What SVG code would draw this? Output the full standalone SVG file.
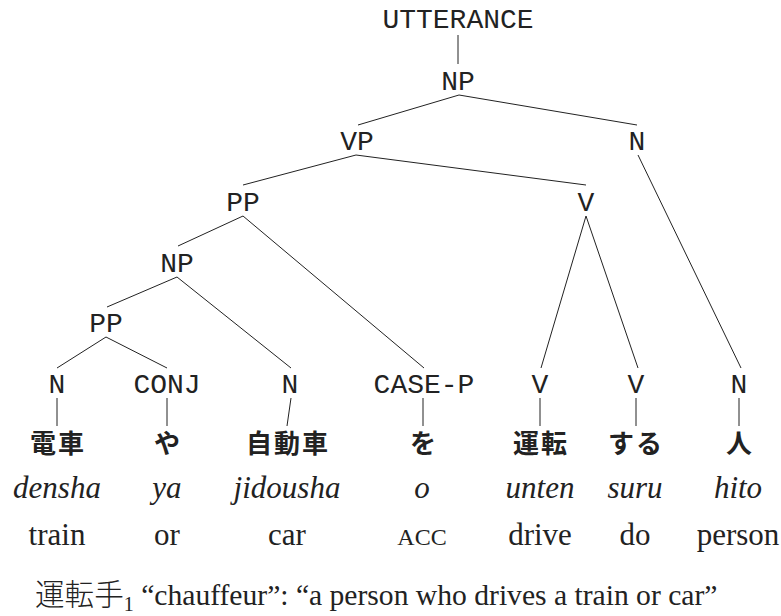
<svg xmlns="http://www.w3.org/2000/svg" width="781" height="616" viewBox="0 0 781 616">
  <style>
    .cat { font-family: "Liberation Mono", "DejaVu Sans Mono", monospace; font-size: 28px; fill: #222; text-anchor: middle; }
    .jp { font-family: "Noto Sans CJK JP", sans-serif; font-weight: 700; font-size: 26px; fill: #222; text-anchor: middle; letter-spacing: 2px; }
    .rom { font-family: "Liberation Serif", serif; font-style: italic; font-size: 31px; fill: #222; text-anchor: middle; }
    .gloss { font-family: "Liberation Serif", serif; font-size: 31px; fill: #222; text-anchor: middle; }
    .sc { font-family: "Liberation Serif", serif; font-size: 24px; fill: #222; text-anchor: middle; }
    .cap { font-family: "Liberation Serif", "Noto Sans CJK JP", serif; font-size: 29.6px; fill: #222; }
    .edge { stroke: #222; stroke-width: 1; fill: none; }
  </style>

  <!-- tree branches -->
  <g id="connectors" class="edge">
    <line x1="458" y1="35" x2="458" y2="64"/>
    <line x1="459" y1="95" x2="358" y2="125"/>
    <line x1="459" y1="95" x2="637" y2="125"/>
    <line x1="356" y1="155" x2="243" y2="185"/>
    <line x1="356" y1="155" x2="586" y2="185"/>
    <line x1="638" y1="155" x2="741" y2="368"/>
    <line x1="243" y1="216" x2="178" y2="246"/>
    <line x1="243" y1="216" x2="424" y2="368"/>
    <line x1="586" y1="216" x2="541" y2="368"/>
    <line x1="586" y1="216" x2="638" y2="368"/>
    <line x1="177" y1="277" x2="107" y2="307"/>
    <line x1="177" y1="277" x2="291" y2="368"/>
    <line x1="106" y1="337" x2="57" y2="368"/>
    <line x1="106" y1="337" x2="167" y2="368"/>
    <line x1="57" y1="398" x2="57" y2="426"/>
    <line x1="167" y1="398" x2="167" y2="426"/>
    <line x1="291" y1="398" x2="287" y2="426"/>
    <line x1="423" y1="398" x2="423" y2="426"/>
    <line x1="540" y1="398" x2="540" y2="426"/>
    <line x1="636" y1="398" x2="636" y2="426"/>
    <line x1="739" y1="398" x2="739" y2="426"/>
  </g>

  <!-- phrase nodes -->
  <g id="utterance"><text class="cat" x="458" y="28">UTTERANCE</text></g>
  <g id="np-top"><text class="cat" x="458" y="90">NP</text></g>
  <g id="vp"><text class="cat" x="357" y="150">VP</text></g>
  <g id="n-top"><text class="cat" x="637" y="150">N</text></g>
  <g id="pp-top"><text class="cat" x="243" y="211">PP</text></g>
  <g id="v-top"><text class="cat" x="586" y="211">V</text></g>
  <g id="np-inner"><text class="cat" x="177" y="272">NP</text></g>
  <g id="pp-inner"><text class="cat" x="106" y="332">PP</text></g>

  <!-- leaves: category, word, romanisation, gloss -->
  <g id="leaf-densha">
    <text class="cat" x="57" y="393">N</text>
    <text class="jp" x="58" y="453">電車</text>
    <text class="rom" x="57" y="498">densha</text>
    <text class="gloss" x="57" y="545">train</text>
  </g>
  <g id="leaf-ya">
    <text class="cat" x="167" y="393">CONJ</text>
    <text class="jp" x="168" y="453">や</text>
    <text class="rom" x="167" y="498">ya</text>
    <text class="gloss" x="167" y="545">or</text>
  </g>
  <g id="leaf-jidousha">
    <text class="cat" x="290" y="393">N</text>
    <text class="jp" x="288" y="453">自動車</text>
    <text class="rom" x="287" y="498">jidousha</text>
    <text class="gloss" x="287" y="545">car</text>
  </g>
  <g id="leaf-o">
    <text class="cat" x="424" y="393">CASE-P</text>
    <text class="jp" x="424" y="453">を</text>
    <text class="rom" x="422" y="498">o</text>
    <text class="sc" x="422" y="545">ACC</text>
  </g>
  <g id="leaf-unten">
    <text class="cat" x="540" y="393">V</text>
    <text class="jp" x="541" y="453">運転</text>
    <text class="rom" x="540" y="498">unten</text>
    <text class="gloss" x="540" y="545">drive</text>
  </g>
  <g id="leaf-suru">
    <text class="cat" x="636" y="393">V</text>
    <text class="jp" x="636" y="453">する</text>
    <text class="rom" x="635" y="498">suru</text>
    <text class="gloss" x="635" y="545">do</text>
  </g>
  <g id="leaf-hito">
    <text class="cat" x="739" y="393">N</text>
    <text class="jp" x="740" y="453">人</text>
    <text class="rom" x="738" y="498">hito</text>
    <text class="gloss" x="738" y="545">person</text>
  </g>

  <!-- caption -->
  <g id="caption">
    <text class="cap" x="35" y="605"><tspan font-family="'Noto Sans CJK JP', sans-serif" font-weight="300">運転手</tspan><tspan font-size="20" dy="6">1</tspan><tspan dy="-6"> “chauffeur”: “a person who drives a train or car”</tspan></text>
  </g>
</svg>
